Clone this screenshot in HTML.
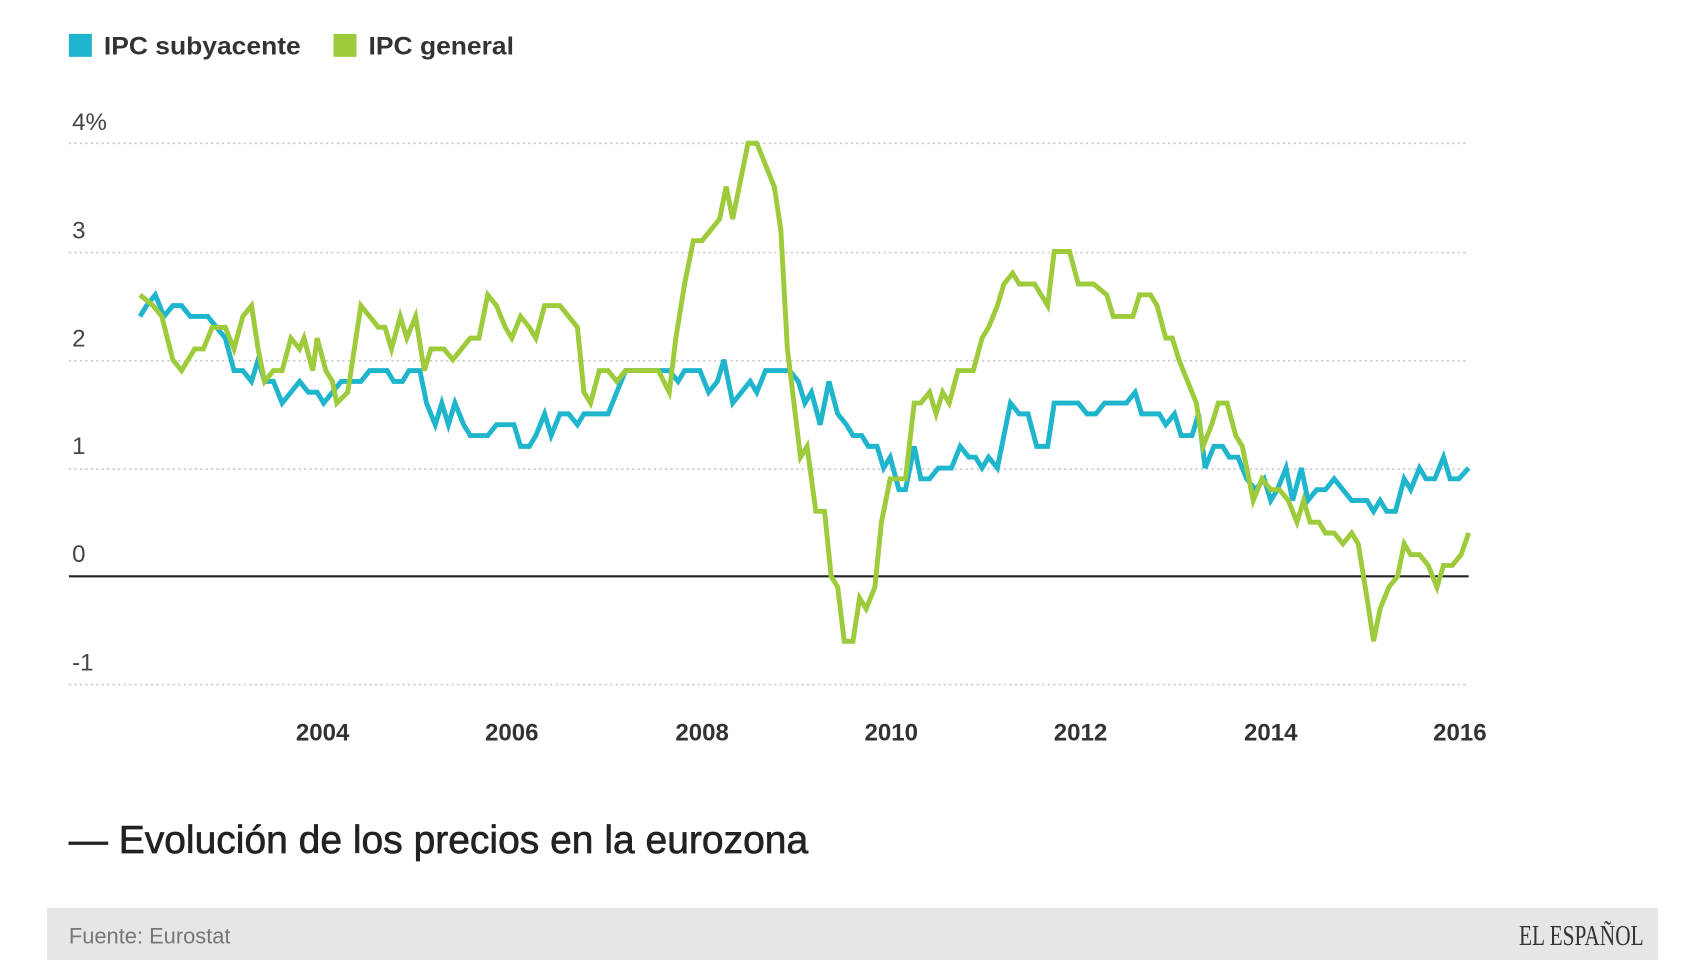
<!DOCTYPE html>
<html><head><meta charset="utf-8"><style>
html,body{margin:0;padding:0;background:#fff;width:1706px;height:960px;overflow:hidden}
svg{display:block}
</style></head><body>
<svg id="c" width="1706" height="960" viewBox="0 0 1560 877.9" preserveAspectRatio="none" xmlns="http://www.w3.org/2000/svg" font-family="Liberation Sans, sans-serif">
<rect x="63" y="31" width="21" height="21" fill="#1fb5cc"/>
<text x="95" y="50" font-size="23" font-weight="bold" fill="#333" textLength="180" lengthAdjust="spacingAndGlyphs">IPC subyacente</text>
<rect x="305" y="31" width="21" height="21" fill="#9ecb3c"/>
<text x="337" y="50" font-size="23" font-weight="bold" fill="#333" textLength="133" lengthAdjust="spacingAndGlyphs">IPC general</text>
<g stroke="#ccc" stroke-width="1.5" stroke-dasharray="2,3">
<line x1="63" x2="1343" y1="131" y2="131"/><line x1="63" x2="1343" y1="231" y2="231"/>
<line x1="63" x2="1343" y1="330" y2="330"/><line x1="63" x2="1343" y1="429" y2="429"/>
<line x1="63" x2="1343" y1="626" y2="626"/></g>
<line x1="63" x2="1343" y1="527" y2="527" stroke="#222" stroke-width="2"/>
<g font-size="22" fill="#444">
<text x="66" y="119">4%</text><text x="66" y="218">3</text><text x="66" y="317">2</text>
<text x="66" y="415">1</text><text x="66" y="514">0</text><text x="66" y="613">-1</text></g>
<g font-size="22" font-weight="bold" fill="#333" text-anchor="middle">
<text x="295" y="677">2004</text><text x="468" y="677">2006</text><text x="642" y="677">2008</text>
<text x="815" y="677">2010</text><text x="988" y="677">2012</text><text x="1162" y="677">2014</text><text x="1335" y="677">2016</text></g>
<polyline id="b" fill="none" stroke="#1fb5cc" stroke-width="4.5" stroke-linejoin="miter"/>
<polyline id="g" fill="none" stroke="#9ecb3c" stroke-width="4.5" stroke-linejoin="miter"/>
<text x="63" y="780" font-size="36" fill="#222" stroke="#222" stroke-width="0.6" textLength="676" lengthAdjust="spacingAndGlyphs">— Evolución de los precios en la eurozona</text>
<rect x="43" y="830" width="1473" height="52" fill="#e6e6e6"/>
<text x="63" y="863" font-size="20" fill="#777">Fuente: Eurostat</text>
<text x="1503" y="864" font-size="26" fill="#333" text-anchor="end" font-family="Liberation Serif, serif" textLength="114" lengthAdjust="spacingAndGlyphs">EL ESPAÑOL</text>
</svg>
<script>
var G=[128,2.6,140,2.5,148,2.4,158,2.0,166,1.9,178,2.1,186,2.1,194,2.3,206,2.3,214,2.1,222,2.4,230,2.5,236,2.1,242,1.8,250,1.9,258,1.9,266,2.2,274,2.1,278,2.2,286,1.9,290,2.2,298,1.9,304,1.8,308,1.6,318,1.7,324,2.1,330,2.5,338,2.4,346,2.3,352,2.3,358,2.1,366,2.4,372,2.2,380,2.4,388,1.9,394,2.1,406,2.1,414,2.0,422,2.1,430,2.2,438,2.2,446,2.6,454,2.5,462,2.3,468,2.2,476,2.4,484,2.3,490,2.2,498,2.5,512,2.5,520,2.4,528,2.3,534,1.7,540,1.6,548,1.9,556,1.9,564,1.8,572,1.9,590,1.9,602,1.9,612,1.7,618,2.2,626,2.7,634,3.1,642,3.1,650,3.2,658,3.3,664,3.6,670,3.3,678,3.7,684,4.0,692,4.0,700,3.8,708,3.6,714,3.2,720,2.1,726,1.6,732,1.1,738,1.2,746,0.6,754,0.6,760,0.0,766,-0.1,772,-0.6,780,-0.6,786,-0.2,792,-0.3,800,-0.1,806,0.5,814,0.9,820,0.9,828,0.9,836,1.6,842,1.6,850,1.7,856,1.5,862,1.7,868,1.6,876,1.9,890,1.9,898,2.2,904,2.3,912,2.5,918,2.7,926,2.8,932,2.7,946,2.7,958,2.5,964,3.0,978,3.0,986,2.7,1000,2.7,1012,2.6,1018,2.4,1036,2.4,1042,2.6,1052,2.6,1058,2.5,1066,2.2,1072,2.2,1078,2.0,1086,1.8,1094,1.6,1100,1.2,1108,1.4,1114,1.6,1122,1.6,1130,1.3,1136,1.2,1146,0.7,1154,0.9,1162,0.8,1170,0.8,1178,0.7,1186,0.5,1192,0.7,1198,0.5,1206,0.5,1212,0.4,1220,0.4,1228,0.3,1236,0.4,1242,0.3,1250,-0.2,1256,-0.6,1262,-0.3,1270,-0.1,1278,0.0,1284,0.3,1290,0.2,1298,0.2,1306,0.1,1314,-0.1,1320,0.1,1328,0.1,1336,0.2,1343,0.4];
var B=[128,2.4,134,2.5,142,2.6,150,2.4,158,2.5,166,2.5,174,2.4,190,2.4,198,2.3,206,2.2,214,1.9,222,1.9,230,1.8,236,2.0,242,1.8,250,1.8,258,1.6,266,1.7,274,1.8,282,1.7,290,1.7,296,1.6,304,1.7,312,1.8,330,1.8,338,1.9,354,1.9,360,1.8,368,1.8,374,1.9,384,1.9,390,1.6,398,1.4,404,1.6,410,1.4,416,1.6,424,1.4,430,1.3,446,1.3,454,1.4,470,1.4,476,1.2,484,1.2,490,1.3,498,1.5,504,1.3,512,1.5,520,1.5,528,1.4,534,1.5,556,1.5,564,1.7,572,1.9,612,1.9,620,1.8,626,1.9,640,1.9,648,1.7,656,1.8,662,2.0,670,1.6,678,1.7,686,1.8,692,1.7,700,1.9,722,1.9,730,1.8,736,1.6,742,1.7,750,1.4,758,1.8,766,1.5,774,1.4,780,1.3,788,1.3,794,1.2,802,1.2,808,1.0,814,1.1,822,0.8,828,0.8,836,1.2,842,0.9,850,0.9,858,1.0,870,1.0,878,1.2,886,1.1,892,1.1,898,1.0,904,1.1,912,1.0,918,1.3,924,1.6,932,1.5,940,1.5,948,1.2,958,1.2,964,1.6,986,1.6,994,1.5,1002,1.5,1010,1.6,1030,1.6,1038,1.7,1044,1.5,1060,1.5,1066,1.4,1074,1.5,1080,1.3,1090,1.3,1096,1.5,1102,1.0,1110,1.2,1118,1.2,1124,1.1,1132,1.1,1140,0.9,1148,0.8,1156,0.9,1162,0.7,1168,0.8,1176,1.0,1182,0.7,1190,1.0,1196,0.7,1204,0.8,1212,0.8,1220,0.9,1228,0.8,1236,0.7,1250,0.7,1256,0.6,1262,0.7,1268,0.6,1276,0.6,1284,0.9,1290,0.8,1298,1.0,1304,0.9,1312,0.9,1320,1.1,1326,0.9,1334,0.9,1343,1.0];
function pts(a){var s=[];for(var i=0;i<a.length;i+=2)s.push(a[i]+','+(527-a[i+1]*99).toFixed(1));return s.join(' ');}
document.getElementById('b').setAttribute('points',pts(B));
document.getElementById('g').setAttribute('points',pts(G));
</script>
</body></html>
